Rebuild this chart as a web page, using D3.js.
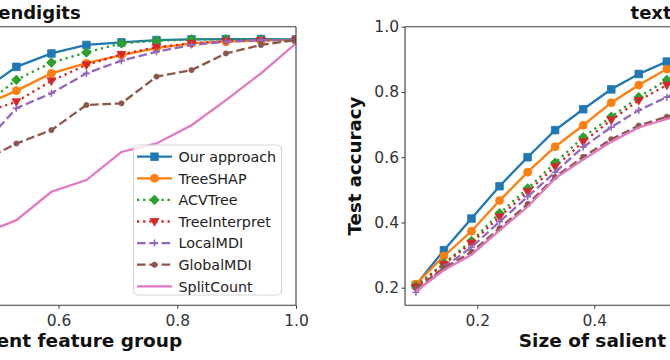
<!DOCTYPE html>
<html>
<head>
<meta charset="utf-8">
<script src="https://cdn.jsdelivr.net/npm/d3@7"></script>
<style>
  html, body { margin: 0; padding: 0; background: #fff; }
  svg { display: block; font-family: "DejaVu Sans", sans-serif; }
</style>
</head>
<body>
<svg id="chart" width="670" height="360"></svg>
<script>
// ---------------- data ----------------
const methods = ["Our approach", "TreeSHAP", "ACVTree", "TreeInterpret", "LocalMDI", "GlobalMDI", "SplitCount"];
const panelTitles = ["pendigits", "texture"];
const xLabel = "Size of salient feature group";
const yLabel = "Test accuracy";

// pendigits (left panel) x values: fraction of features
const pendigitsX = [0.471, 0.529, 0.588, 0.647, 0.706, 0.765, 0.824, 0.882, 0.941, 1.0];
const pendigitsOur = [0.803, 0.877, 0.918, 0.944, 0.952, 0.959, 0.961, 0.962, 0.962, 0.961];
const pendigitsTreeSHAP = [0.757, 0.804, 0.857, 0.888, 0.913, 0.934, 0.949, 0.954, 0.958, 0.959];
const pendigitsACVTree = [0.754, 0.837, 0.890, 0.921, 0.949, 0.957, 0.961, 0.961, 0.961, 0.959];
const pendigitsTreeInterpret = [0.735, 0.770, 0.834, 0.883, 0.915, 0.937, 0.949, 0.956, 0.958, 0.959];
const pendigitsLocalMDI = [0.634, 0.750, 0.796, 0.857, 0.896, 0.923, 0.944, 0.954, 0.959, 0.959];
const pendigitsGlobalMDI = [0.588, 0.642, 0.683, 0.760, 0.765, 0.847, 0.867, 0.918, 0.944, 0.959];
const pendigitsSplitCount = [0.364, 0.407, 0.494, 0.530, 0.616, 0.642, 0.698, 0.775, 0.857, 0.949];

// texture (right panel)
const textureX = [0.095, 0.143, 0.190, 0.238, 0.286, 0.333, 0.381, 0.429, 0.476, 0.524, 0.571];
const textureOur = [0.208, 0.315, 0.412, 0.511, 0.600, 0.683, 0.747, 0.808, 0.855, 0.893, 0.925];
const textureTreeSHAP = [0.211, 0.297, 0.373, 0.467, 0.554, 0.632, 0.698, 0.767, 0.821, 0.870, 0.905];
const textureACVTree = [0.205, 0.275, 0.343, 0.428, 0.504, 0.583, 0.661, 0.724, 0.784, 0.837, 0.875];
const textureTreeInterpret = [0.202, 0.272, 0.337, 0.417, 0.494, 0.571, 0.647, 0.714, 0.774, 0.821, 0.860];
const textureLocalMDI = [0.186, 0.263, 0.324, 0.402, 0.479, 0.554, 0.631, 0.692, 0.744, 0.784, 0.820];
const textureGlobalMDI = [0.198, 0.260, 0.309, 0.382, 0.456, 0.539, 0.601, 0.655, 0.697, 0.724, 0.750];
const textureSplitCount = [0.189, 0.254, 0.301, 0.376, 0.448, 0.535, 0.593, 0.647, 0.691, 0.717, 0.740];

const xTicks = [0.2, 0.4, 0.6, 0.8, 1.0];
const yTicks = [0.2, 0.4, 0.6, 0.8, 1.0];

// ---------------- styles ----------------
const styles = [
  {color: "#1f77b4", dash: null,      marker: "square"},
  {color: "#ff7f0e", dash: null,      marker: "circle"},
  {color: "#2ca02c", dash: "2.3,3.8", marker: "diamond"},
  {color: "#d62728", dash: "2.3,3.8", marker: "tridown"},
  {color: "#9467bd", dash: "8.6,3.7", marker: "plus"},
  {color: "#8c564b", dash: "8.6,3.7", marker: "dot"},
  {color: "#e377c2", dash: null,      marker: "none"}
];

const panels = [
  {title: panelTitles[0], x: pendigitsX,
   series: [pendigitsOur, pendigitsTreeSHAP, pendigitsACVTree, pendigitsTreeInterpret, pendigitsLocalMDI, pendigitsGlobalMDI, pendigitsSplitCount],
   left: -230, right: 296, xdom: [0.114, 1.0], showY: false, legend: true},
  {title: panelTitles[1], x: textureX,
   series: [textureOur, textureTreeSHAP, textureACVTree, textureTreeInterpret, textureLocalMDI, textureGlobalMDI, textureSplitCount],
   left: 405, right: 931, xdom: [0.0764, 0.9756], showY: true, legend: false}
];

const axTop = 26.7, axBottom = 305.3;
const svg = d3.select("#chart");
const y = d3.scaleLinear().domain([0.146, 1.0]).range([axBottom, axTop]);

function markerPath(type) {
  switch (type) {
    case "square": return "M-3.8,-3.8H3.8V3.8H-3.8Z";
    case "circle": return "M4,0A4,4 0 1,1 -4,0A4,4 0 1,1 4,0Z";
    case "diamond": return "M0,-4.8L4.8,0L0,4.8L-4.8,0Z";
    case "tridown": return "M-4.4,-3L4.4,-3L0,4.6Z";
    case "dot": return "M2.6,0A2.6,2.6 0 1,1 -2.6,0A2.6,2.6 0 1,1 2.6,0Z";
    default: return null;
  }
}
function drawMarker(g, type, color, cx, cy) {
  if (type === "none") return;
  if (type === "plus") {
    g.append("path").attr("d", `M${cx-3.5},${cy}H${cx+3.5}M${cx},${cy-3.5}V${cy+3.5}`)
      .attr("stroke", color).attr("stroke-width", 1.6).attr("fill", "none");
    return;
  }
  g.append("path").attr("d", markerPath(type)).attr("transform", `translate(${cx},${cy})`)
    .attr("fill", color).attr("stroke", color).attr("stroke-width", 0.8);
}

panels.forEach((p, pi) => {
  const x = d3.scaleLinear().domain(p.xdom).range([p.left, p.right]);
  const clipId = "clip" + pi;
  svg.append("clipPath").attr("id", clipId).append("rect")
    .attr("x", p.left).attr("y", axTop).attr("width", p.right - p.left).attr("height", axBottom - axTop);

  const g = svg.append("g").attr("clip-path", `url(#${clipId})`);
  const line = d3.line().x((d, i) => x(p.x[i])).y(d => y(d));
  p.series.forEach((s, si) => {
    const st = styles[si];
    g.append("path").datum(s).attr("d", line)
      .attr("fill", "none").attr("stroke", st.color).attr("stroke-width", 2.3)
      .attr("stroke-dasharray", st.dash);
    s.forEach((v, i) => drawMarker(g, st.marker, st.color, x(p.x[i]), y(v)));
  });

  // spines
  const sp = svg.append("g").attr("stroke", "#3a3a3a").attr("stroke-width", 1.1).attr("fill", "none");
  sp.append("line").attr("x1", p.left).attr("x2", p.right).attr("y1", axTop).attr("y2", axTop);
  sp.append("line").attr("x1", p.left).attr("x2", p.right).attr("y1", axBottom).attr("y2", axBottom);
  sp.append("line").attr("x1", p.left).attr("x2", p.left).attr("y1", axTop).attr("y2", axBottom);
  sp.append("line").attr("x1", p.right).attr("x2", p.right).attr("y1", axTop).attr("y2", axBottom);

  // x axis
  const xa = svg.append("g").attr("transform", `translate(0,${axBottom})`)
    .call(d3.axisBottom(x).tickValues(xTicks).tickFormat(d3.format(".1f")).tickSize(3.5).tickPadding(6.5));
  xa.select(".domain").remove();
  xa.selectAll(".tick line").attr("stroke", "#3a3a3a").attr("stroke-width", 1);
  xa.selectAll(".tick text").attr("fill", "#333").style("font-size", "15.5px").style("font-family", "DejaVu Sans");

  if (p.showY) {
    const ya = svg.append("g").attr("transform", `translate(${p.left},0)`)
      .call(d3.axisLeft(y).tickValues(yTicks).tickFormat(d3.format(".1f")).tickSize(3.5).tickPadding(2.5));
    ya.select(".domain").remove();
    ya.selectAll(".tick line").attr("stroke", "#3a3a3a").attr("stroke-width", 1);
    ya.selectAll(".tick text").attr("fill", "#333").style("font-size", "15.5px").style("font-family", "DejaVu Sans");
    svg.append("text").attr("transform", `translate(361,${(axTop + axBottom) / 2}) rotate(-90)`)
      .attr("text-anchor", "middle").attr("font-weight", "bold").attr("font-size", "18.2px").attr("fill", "#111")
      .text(yLabel);
  }

  const cx = (p.left + p.right) / 2;
  svg.append("text").attr("x", cx).attr("y", 18.5).attr("text-anchor", "middle")
    .attr("font-weight", "bold").attr("font-size", "18px").attr("fill", "#111").text(p.title);
  svg.append("text").attr("x", cx).attr("y", 347).attr("text-anchor", "middle")
    .attr("font-weight", "bold").attr("font-size", "18.5px").attr("fill", "#111").text(xLabel);

  if (p.legend) {
    const lg = svg.append("g");
    lg.append("rect").attr("x", 133.5).attr("y", 145).attr("width", 148).attr("height", 150)
      .attr("rx", 4).attr("fill", "white").attr("fill-opacity", 0.8).attr("stroke", "#d6d6d6").attr("stroke-width", 1);
    methods.forEach((m, mi) => {
      const st = styles[mi];
      const ry = 156.7 + mi * 21.6;
      lg.append("line").attr("x1", 137).attr("x2", 172).attr("y1", ry).attr("y2", ry)
        .attr("stroke", st.color).attr("stroke-width", 2.3).attr("stroke-dasharray", st.dash);
      drawMarker(lg, st.marker, st.color, 154.5, ry);
      lg.append("text").attr("x", 178.5).attr("y", ry + 5.2).attr("font-size", "14.3px").attr("fill", "#222").text(m);
    });
  }
});
</script>
</body>
</html>
